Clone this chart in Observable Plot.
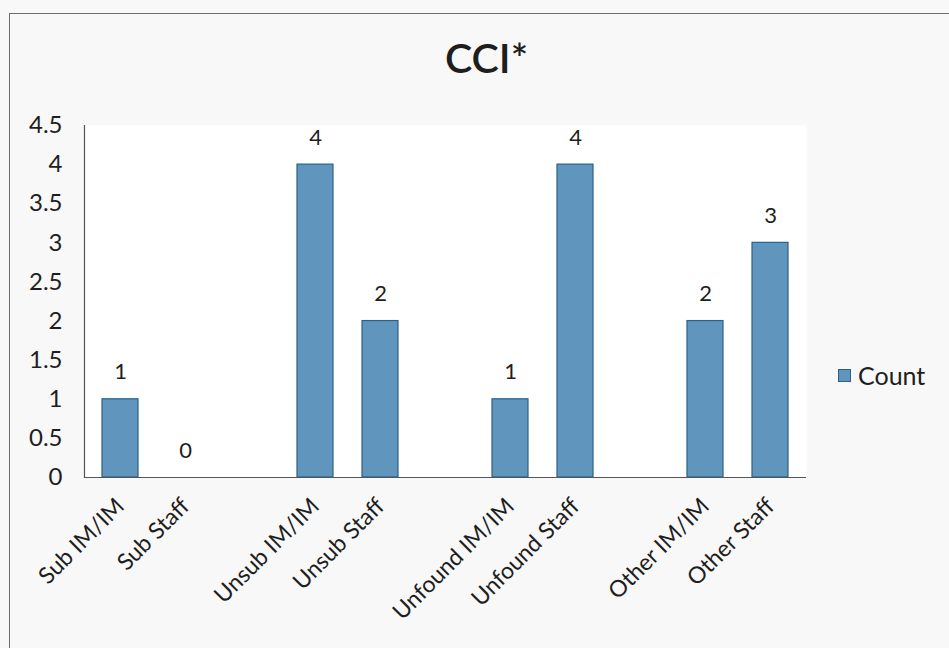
<!DOCTYPE html>
<html>
<head>
<meta charset="utf-8">
<script src="https://cdn.jsdelivr.net/npm/d3@7"></script>
<script src="https://cdn.jsdelivr.net/npm/@observablehq/plot@0.6"></script>
<style>
  html, body { margin: 0; padding: 0; background: #f8f8f8; }
  #wrap { position: relative; width: 949px; height: 648px; overflow: hidden; font-family: Lato, "Open Sans", sans-serif; }
  #border { position: absolute; left: 9px; top: 13px; width: 980px; height: 700px; border: 1.5px solid #6d6d6d; box-sizing: border-box; }
  #title { position: relative; height: 100px; width: 949px; text-align: center; box-sizing: border-box; padding-top: 37px; padding-left: 24px; font-size: 41px; font-weight: 600; color: #1e1e1e; line-height: 1; }
  #legend { position: absolute; left: 838px; top: 360px; font-size: 25px; color: #1e1e1e; display: flex; align-items: center; }
  #legend .sw { width: 13px; height: 13px; background: #6096bd; border: 1px solid #2c6189; margin-right: 7px; box-sizing: border-box; }
  svg { display: block; }
</style>
</head>
<body>
<div id="wrap">
  <div id="border"></div>
  <div id="title">CCI*</div>
  <div id="chart"></div>
  <div id="legend"><span class="sw"></span><span>Count</span></div>
</div>
<script>
const categories = ["Sub IM/IM", "Sub Staff", "Unsub IM/IM", "Unsub Staff", "Unfound IM/IM", "Unfound Staff", "Other IM/IM", "Other Staff"];
const counts = [1, 0, 4, 2, 1, 4, 2, 3];
const xDomain = ["Sub IM/IM", "Sub Staff", "gap1", "Unsub IM/IM", "Unsub Staff", "gap2", "Unfound IM/IM", "Unfound Staff", "gap3", "Other IM/IM", "Other Staff"];
const yTicks = [0, 0.5, 1, 1.5, 2, 2.5, 3, 3.5, 4, 4.5];

const data = categories.map((c, i) => ({category: c, count: counts[i]}));

const chart = Plot.plot({
  width: 949,
  height: 548,
  marginTop: 25,
  marginBottom: 171,
  marginLeft: 84,
  marginRight: 143,
  style: {background: "transparent", fontFamily: "Lato, 'Open Sans', sans-serif", color: "#1e1e1e"},
  x: {domain: xDomain, paddingInner: 0.45, paddingOuter: 0.225, label: null},
  y: {domain: [0, 4.5], label: null},
  marks: [
    Plot.frame({fill: "white", stroke: null}),
    Plot.barY(data, {x: "category", y: "count", fill: "#6096bd", stroke: "#2c6189", strokeWidth: 1.2}),
    Plot.text(data, {x: "category", y: "count", text: d => String(d.count), dy: -27, fontSize: 22, fill: "#1e1e1e"}),
    Plot.ruleY([0], {stroke: "#555", strokeWidth: 1.2}),
    Plot.frame({anchor: "left", stroke: "#555", strokeWidth: 1.2}),
    Plot.axisY({ticks: yTicks, tickSize: 0, tickPadding: 22, fontSize: 24, tickFormat: d => String(d)}),
    Plot.axisX({ticks: categories, tickSize: 0, tickPadding: 25, tickRotate: -45, fontSize: 23})
  ]
});
document.getElementById("chart").appendChild(chart);
</script>
</body>
</html>
